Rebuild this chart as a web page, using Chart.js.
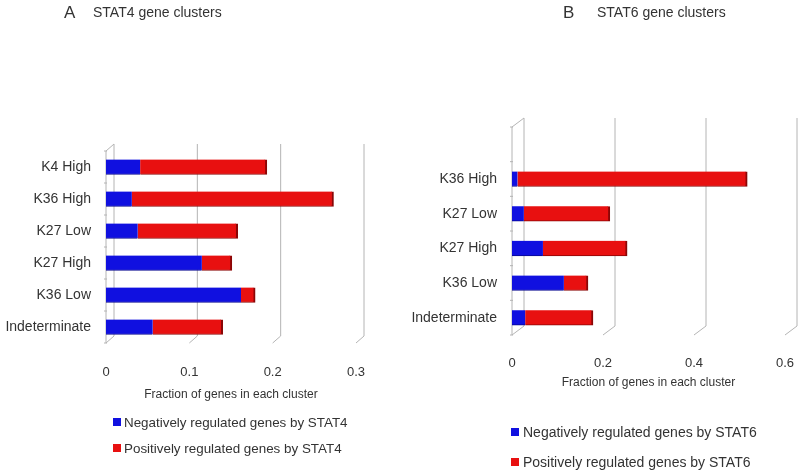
<!DOCTYPE html>
<html>
<head>
<meta charset="utf-8">
<script src="https://cdn.jsdelivr.net/npm/chart.js@4"></script>
<style>
  body { margin: 0; background: #fff; font-family: "Liberation Sans", Arial, sans-serif; color: #333; }
  #wrap { position: relative; width: 800px; height: 476px; overflow: hidden; }
  canvas { position: absolute; top: 0; }
  .lbl { position: absolute; white-space: nowrap; line-height: 1; }
  .sq { position: absolute; width: 8px; height: 8px; }
</style>
</head>
<body>
<div id="wrap">
  <canvas id="chartA" width="400" height="476" style="left:0"></canvas>
  <canvas id="chartB" width="430" height="476" style="left:400px"></canvas>

  <div class="lbl" style="left:64px;top:4px;font-size:17px;">A</div>
  <div class="lbl" style="left:93px;top:5px;font-size:14px;">STAT4 gene clusters</div>
  <div class="lbl" style="left:563px;top:4px;font-size:17px;">B</div>
  <div class="lbl" style="left:597px;top:5px;font-size:14px;">STAT6 gene clusters</div>

  <div class="sq" style="left:113px;top:418px;background:#1010e0"></div>
  <div class="lbl" style="left:124px;top:416px;font-size:13.4px;">Negatively regulated genes by STAT4</div>
  <div class="sq" style="left:113px;top:444px;background:#e81010"></div>
  <div class="lbl" style="left:124px;top:442px;font-size:13.4px;">Positively regulated genes by STAT4</div>

  <div class="sq" style="left:511px;top:428px;background:#1010e0"></div>
  <div class="lbl" style="left:523px;top:425px;font-size:14px;">Negatively regulated genes by STAT6</div>
  <div class="sq" style="left:511px;top:458px;background:#e81010"></div>
  <div class="lbl" style="left:523px;top:455px;font-size:14px;">Positively regulated genes by STAT6</div>
</div>
<script>
// STAT4 panel
const stat4Clusters = ['K4 High', 'K36 High', 'K27 Low', 'K27 High', 'K36 Low', 'Indeterminate'];
const stat4Negative = [0.041, 0.031, 0.038, 0.115, 0.162, 0.056];
const stat4Positive = [0.152, 0.242, 0.120, 0.036, 0.017, 0.084];
const stat4Ticks = [0, 0.1, 0.2, 0.3];

// STAT6 panel (top row is empty in the original)
const stat6Clusters = ['', 'K36 High', 'K27 Low', 'K27 High', 'K36 Low', 'Indeterminate'];
const stat6Negative = [null, 0.012, 0.026, 0.068, 0.114, 0.029];
const stat6Positive = [null, 0.505, 0.189, 0.185, 0.053, 0.149];
const stat6Ticks = [0, 0.2, 0.4, 0.6];

const BLUE = '#1010e0';
const RED = '#e81010';

// fake 3d walls, like the old excel charts
const walls = {
  id: 'walls',
  beforeDatasetsDraw(chart, args, opts) {
    const { ctx, chartArea } = chart;
    const x = chart.scales.x;
    const dx = opts.dx, dy = opts.dy;
    const top = chartArea.top, bottom = chartArea.bottom, left = chartArea.left;
    ctx.save();
    ctx.strokeStyle = '#b4b4b4';
    ctx.lineWidth = 1;
    ctx.beginPath();
    // left wall
    ctx.moveTo(left, bottom);
    ctx.lineTo(left, top);
    ctx.lineTo(left + dx, top - dy);
    ctx.lineTo(left + dx, bottom - dy);
    x.ticks.forEach(t => {
      const px = x.getPixelForValue(t.value);
      ctx.moveTo(px, bottom);
      ctx.lineTo(px + dx, bottom - dy);
      if (t.value > 0) ctx.lineTo(px + dx, top - dy);
    });
    ctx.stroke();
    // little tick marks on the wall
    const y = chart.scales.y;
    ctx.beginPath();
    for (let i = 0; i <= y.ticks.length; i++) {
      const py = top + (bottom - top) * i / y.ticks.length;
      ctx.moveTo(left - 2, py);
      ctx.lineTo(left + 1, py);
    }
    ctx.stroke();
    ctx.restore();
  }
};

function makeChart(id, labels, neg, pos, ticks, area) {
  return new Chart(document.getElementById(id), {
    type: 'bar',
    data: {
      labels: labels,
      datasets: [
        {
          label: 'Negatively regulated',
          data: neg,
          backgroundColor: BLUE,
          borderColor: '#080890',
          borderWidth: { top: 0, bottom: 1, left: 0, right: 0 },
          borderSkipped: false,
          barThickness: 15,
        },
        {
          label: 'Positively regulated',
          data: pos,
          backgroundColor: RED,
          borderColor: '#8a0606',
          borderWidth: { top: 0, bottom: 1, left: 0, right: 2 },
          borderSkipped: false,
          barThickness: 15,
        },
      ],
    },
    options: {
      indexAxis: 'y',
      responsive: false,
      animation: false,
      layout: { padding: { top: area.top, right: area.right, bottom: area.bottom, left: 0 } },
      plugins: {
        legend: { display: false },
        tooltip: { enabled: false },
        walls: { dx: area.dx, dy: area.dy },
      },
      scales: {
        x: {
          stacked: true,
          min: 0,
          max: ticks[ticks.length - 1],
          afterBuildTicks: s => { s.ticks = ticks.map(v => ({ value: v })); },
          afterFit: s => { s.height = area.xHeight; },
          grid: { display: false, drawTicks: false },
          border: { display: false },
          ticks: {
            padding: area.tickPad,
            color: '#333',
            font: { family: 'Liberation Sans', size: 13 },
            callback: v => String(v),
          },
          title: {
            display: true,
            text: 'Fraction of genes in each cluster',
            color: '#333',
            padding: 0,
            font: { family: 'Liberation Sans', size: 12 },
          },
        },
        y: {
          stacked: true,
          afterFit: s => { s.width = area.yWidth; },
          grid: { display: false, drawTicks: false },
          border: { display: false },
          ticks: {
            padding: area.labelPad,
            color: '#333',
            font: { family: 'Liberation Sans', size: 14 },
          },
        },
      },
    },
    plugins: [walls],
  });
}

makeChart('chartA', stat4Clusters, stat4Negative, stat4Positive, stat4Ticks,
  { top: 151, right: 44, bottom: 74, xHeight: 59, yWidth: 106, tickPad: 22, labelPad: 15, dx: 8, dy: 7 });
makeChart('chartB', stat6Clusters, stat6Negative, stat6Positive, stat6Ticks,
  { top: 127, right: 45, bottom: 86, xHeight: 55, yWidth: 112, tickPad: 21, labelPad: 15, dx: 12, dy: 9 });
</script>
</body>
</html>
